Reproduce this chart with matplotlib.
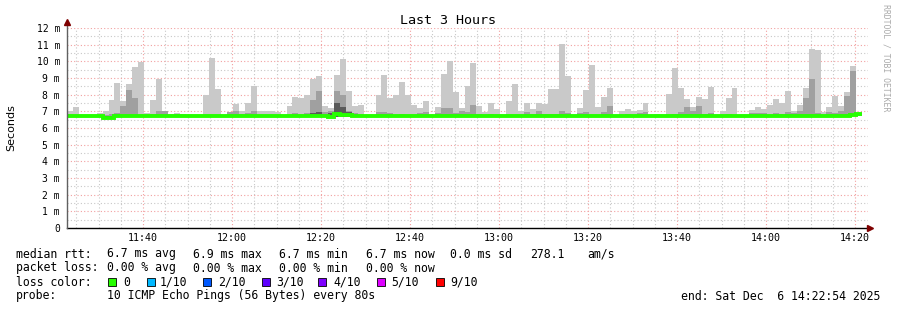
import matplotlib
matplotlib.use("Agg")
import matplotlib.pyplot as plt
import numpy as np

# ---------------- data (ms) ----------------
rtt_max = [
    7.0, 7.28, 6.75, 6.75, 6.8, 6.92, 7.0, 7.68, 8.7, 7.62,
    8.64, 9.64, 9.98, 6.92, 7.68, 8.96, 7.0, 6.85, 6.9, 6.85,
    6.75, 6.8, 6.8, 7.98, 10.22, 8.34, 6.8, 6.95, 7.44, 7.0,
    7.48, 8.52, 7.0, 7.0, 7.0, 6.95, 6.75, 7.32, 7.88, 7.82,
    7.98, 8.94, 9.1, 7.32, 7.22, 9.18, 10.14, 8.22, 7.32, 7.38,
    6.75, 6.75, 7.98, 9.18, 7.82, 7.98, 8.76, 7.98, 7.38, 7.22,
    7.62, 6.75, 7.28, 9.24, 10.02, 8.18, 7.22, 8.52, 9.92, 7.32,
    6.95, 7.48, 7.15, 6.75, 7.62, 8.64, 7.0, 7.48, 7.15, 7.52,
    7.44, 8.34, 8.34, 11.04, 9.12, 6.75, 7.2, 8.28, 9.78, 7.26,
    7.86, 8.4, 6.8, 7.0, 7.15, 7.0, 7.06, 7.5, 6.8, 6.85,
    6.75, 8.02, 9.6, 8.42, 7.74, 7.26, 7.86, 7.74, 8.46, 6.8,
    7.0, 7.8, 8.4, 6.75, 6.75, 7.06, 7.26, 7.15, 7.38, 7.74,
    7.48, 8.22, 7.0, 7.38, 8.4, 10.74, 10.68, 6.95, 7.26, 7.92,
    7.32, 8.16, 9.72, 6.8]

rtt_mid = [
    6.75, 6.8, 6.75, 6.75, 6.78, 6.8, 6.8, 6.85, 6.9, 7.3,
    8.28, 7.82, 6.8, 6.8, 6.85, 7.05, 7.0, 6.8, 6.85, 6.8,
    6.75, 6.78, 6.78, 6.8, 6.8, 6.8, 6.78, 6.95, 7.0, 6.85,
    6.9, 7.0, 6.8, 6.8, 6.8, 6.8, 6.75, 6.8, 6.9, 6.8,
    6.9, 7.68, 8.22, 6.95, 7.0, 8.22, 7.98, 7.0, 6.9, 6.8,
    6.75, 6.75, 6.95, 6.95, 6.9, 6.8, 6.85, 6.8, 6.8, 6.9,
    6.95, 6.75, 6.9, 7.2, 7.2, 6.9, 7.0, 6.95, 7.38, 6.85,
    6.8, 6.85, 6.8, 6.75, 6.8, 6.8, 6.8, 6.95, 6.85, 7.0,
    6.85, 6.85, 6.85, 7.05, 6.9, 6.75, 6.9, 6.95, 6.8, 6.8,
    6.95, 7.32, 6.8, 6.8, 6.85, 6.8, 6.9, 6.95, 6.8, 6.8,
    6.75, 6.8, 6.85, 6.95, 7.26, 7.0, 7.32, 6.85, 6.9, 6.8,
    6.8, 6.85, 6.8, 6.75, 6.75, 6.9, 6.9, 6.9, 6.8, 6.9,
    6.85, 6.95, 6.9, 7.0, 7.8, 8.96, 6.9, 6.8, 6.95, 6.9,
    7.0, 7.92, 9.42, 6.8]

rtt_inner = [
    6.72, 6.72, 6.72, 6.72, 6.72, 6.72, 6.72, 6.72, 6.72, 6.72,
    6.72, 6.72, 6.72, 6.72, 6.72, 6.72, 6.72, 6.72, 6.72, 6.72,
    6.72, 6.72, 6.72, 6.72, 6.72, 6.72, 6.72, 6.72, 6.72, 6.72,
    6.72, 6.72, 6.72, 6.72, 6.72, 6.72, 6.72, 6.72, 6.72, 6.72,
    6.72, 6.9, 6.95, 6.72, 6.9, 7.5, 7.25, 6.95, 6.72, 6.72,
    6.72, 6.72, 6.72, 6.72, 6.72, 6.72, 6.72, 6.72, 6.72, 6.72,
    6.72, 6.72, 6.72, 6.72, 6.72, 6.72, 6.72, 6.72, 6.72, 6.72,
    6.72, 6.72, 6.72, 6.72, 6.72, 6.72, 6.72, 6.72, 6.72, 6.72,
    6.72, 6.72, 6.72, 6.72, 6.72, 6.72, 6.72, 6.72, 6.72, 6.72,
    6.72, 6.72, 6.72, 6.72, 6.72, 6.72, 6.72, 6.72, 6.72, 6.72,
    6.72, 6.72, 6.72, 6.72, 6.72, 6.72, 6.72, 6.72, 6.72, 6.72,
    6.72, 6.72, 6.72, 6.72, 6.72, 6.72, 6.72, 6.72, 6.72, 6.72,
    6.72, 6.72, 6.72, 6.72, 6.72, 6.72, 6.72, 6.72, 6.72, 6.72,
    6.72, 6.72, 6.72, 6.72]

rtt_min = [
    6.64, 6.64, 6.64, 6.64, 6.64, 6.64, 6.56, 6.58, 6.64, 6.64,
    6.64, 6.64, 6.64, 6.64, 6.64, 6.64, 6.64, 6.64, 6.64, 6.64,
    6.64, 6.64, 6.64, 6.64, 6.64, 6.64, 6.64, 6.64, 6.64, 6.64,
    6.64, 6.64, 6.64, 6.64, 6.64, 6.64, 6.64, 6.64, 6.64, 6.64,
    6.64, 6.64, 6.64, 6.64, 6.6, 6.64, 6.64, 6.64, 6.64, 6.64,
    6.64, 6.64, 6.64, 6.64, 6.64, 6.64, 6.64, 6.64, 6.64, 6.64,
    6.64, 6.64, 6.64, 6.64, 6.64, 6.64, 6.64, 6.64, 6.64, 6.64,
    6.64, 6.64, 6.64, 6.64, 6.64, 6.64, 6.64, 6.64, 6.64, 6.64,
    6.64, 6.64, 6.64, 6.64, 6.64, 6.64, 6.64, 6.64, 6.64, 6.64,
    6.64, 6.64, 6.64, 6.64, 6.64, 6.64, 6.64, 6.64, 6.64, 6.64,
    6.64, 6.64, 6.64, 6.64, 6.64, 6.64, 6.64, 6.64, 6.64, 6.64,
    6.64, 6.64, 6.64, 6.64, 6.64, 6.64, 6.64, 6.64, 6.64, 6.64,
    6.64, 6.64, 6.64, 6.64, 6.64, 6.64, 6.64, 6.64, 6.64, 6.64,
    6.64, 6.64, 6.7, 6.7]

rtt_median = [
    6.72, 6.74, 6.7, 6.72, 6.72, 6.7, 6.6, 6.62, 6.72, 6.72,
    6.72, 6.72, 6.72, 6.72, 6.72, 6.72, 6.72, 6.72, 6.72, 6.72,
    6.72, 6.72, 6.72, 6.72, 6.72, 6.72, 6.72, 6.72, 6.72, 6.72,
    6.72, 6.72, 6.72, 6.72, 6.72, 6.72, 6.72, 6.72, 6.72, 6.72,
    6.72, 6.72, 6.72, 6.72, 6.66, 6.86, 6.8, 6.76, 6.72, 6.72,
    6.7, 6.7, 6.72, 6.72, 6.72, 6.72, 6.72, 6.72, 6.72, 6.72,
    6.72, 6.72, 6.72, 6.72, 6.72, 6.72, 6.72, 6.72, 6.72, 6.72,
    6.72, 6.72, 6.72, 6.72, 6.72, 6.72, 6.72, 6.72, 6.72, 6.72,
    6.72, 6.72, 6.72, 6.72, 6.72, 6.72, 6.72, 6.72, 6.72, 6.72,
    6.72, 6.72, 6.72, 6.72, 6.72, 6.72, 6.72, 6.72, 6.72, 6.72,
    6.72, 6.72, 6.72, 6.72, 6.72, 6.72, 6.72, 6.72, 6.72, 6.72,
    6.72, 6.72, 6.72, 6.72, 6.72, 6.72, 6.72, 6.72, 6.72, 6.72,
    6.72, 6.72, 6.72, 6.72, 6.72, 6.72, 6.72, 6.72, 6.72, 6.72,
    6.72, 6.74, 6.8, 6.84]

x_tick_labels = ["11:40", "12:00", "12:20", "12:40", "13:00", "13:20", "13:40", "14:00", "14:20"]
y_tick_labels = ["0", "1 m", "2 m", "3 m", "4 m", "5 m", "6 m", "7 m", "8 m", "9 m", "10 m", "11 m", "12 m"]
loss_labels = ["0", "1/10", "2/10", "3/10", "4/10", "5/10", "9/10"]
loss_colors = ["#26ff00", "#00b8ff", "#0059ff", "#5e00ff", "#7e00ff", "#dd00ff", "#ff0000"]

# ---------------- layout ----------------
W, H = 897, 310
MONO = "DejaVu Sans Mono"
fig = plt.figure(figsize=(W / 100, H / 100), dpi=100)
fig.patch.set_facecolor("white")

t_start = 11 * 60 + 22 + 54 / 60.0   # minutes since midnight
t_end = t_start + 180
step = 80 / 60.0

ax = fig.add_axes([67 / W, (H - 228) / H, 801 / W, 200 / H])
ax.set_xlim(t_start, t_end)
ax.set_ylim(0, 12)
for s in ax.spines.values():
    s.set_visible(False)

# grid
dot = (0, (1, 2))
m = int(np.ceil(t_start / 5.0)) * 5
while m < t_end:
    major = (m % 20 == 0)
    ax.axvline(m, color="#f2a0a0" if major else "#c8c8c8", lw=0.8, ls=dot, zorder=0)
    m += 5
for v in np.arange(0.5, 12.01, 0.5):
    major = abs(v - round(v)) < 1e-6
    ax.axhline(v, color="#f2a0a0" if major else "#c8c8c8", lw=0.8, ls=dot, zorder=0)

# smoke and median
n = len(rtt_max)
edges = t_start + np.arange(n + 1) * step
lo = np.array(rtt_min)
ax.stairs(rtt_max, edges, baseline=lo, fill=True, color="#c9c9c9", lw=0, zorder=2)
ax.stairs(np.minimum(rtt_mid, rtt_max), edges, baseline=lo, fill=True, color="#a0a0a0", lw=0, zorder=3)
ax.stairs(rtt_inner, edges, baseline=lo, fill=True, color="#5a5a5a", lw=0, zorder=4)
ax.stairs(rtt_median, edges, baseline=None, color="#26ff00", lw=2.8, zorder=5)

# axes lines and arrows
x_arrow = t_start + (870 - 67) / 801 * 180
ax.plot([t_start, x_arrow], [0, 0], color="black", lw=1.0, clip_on=False, zorder=6)
ax.plot([t_start, t_start], [0, 12.3], color="#606060", lw=1.0, clip_on=False, zorder=6)
ax.plot([x_arrow], [0], marker=">", color="#7f0000", ms=4, clip_on=False, zorder=7)
ax.plot([t_start], [12.35], marker="^", color="#7f0000", ms=4, clip_on=False, zorder=7)

# ticks
ax.set_yticks(range(13))
ax.set_yticklabels(y_tick_labels, fontfamily=MONO, fontsize=7)
xt = [11 * 60 + 40 + 20 * i for i in range(len(x_tick_labels))]
ax.set_xticks(xt)
ax.set_xticklabels(x_tick_labels, fontfamily=MONO, fontsize=7.2)
ax.tick_params(axis="y", length=0, pad=5)
ax.tick_params(axis="x", length=0, pad=3.5)

# title / labels
fig.text(448 / W, 1 - 20 / H, "Last 3 Hours", ha="center", va="center", fontfamily=MONO, fontsize=9.6)
fig.text(11 / W, 1 - 128 / H, "Seconds", rotation=90, ha="center", va="center", fontsize=8)
fig.text(886 / W, 1 - 4 / H, "RRDTOOL / TOBI OETIKER", rotation=270, ha="center", va="top",
         fontfamily=MONO, fontsize=5.9, color="#aaaaaa")

def t(x, y, s, **kw):
    fig.text(x / W, 1 - y / H, s, ha="left", va="center", fontfamily=MONO, fontsize=8.3, **kw)

t(16, 254, "median rtt:")
for x, s in [(107, "6.7 ms avg"), (193, "6.9 ms max"), (279, "6.7 ms min"), (366, "6.7 ms now"),
             (450, "0.0 ms sd"), (530, "278.1"), (587, "am/s")]:
    t(x, 254, s)
t(16, 268, "packet loss:")
for x, s in [(107, "0.00 % avg"), (193, "0.00 % max"), (279, "0.00 % min"), (366, "0.00 % now")]:
    t(x, 268, s)
t(16, 282, "loss color:")
sq_x = [108, 147, 203, 262, 318, 377, 436]
lab_x = [123, 160, 218, 276, 333, 391, 450]
for sx, lx, lab, col in zip(sq_x, lab_x, loss_labels, loss_colors):
    fig.patches.append(plt.Rectangle((sx / W, 1 - 286 / H), 8 / W, 8 / H, transform=fig.transFigure,
                                     facecolor=col, edgecolor="black", lw=0.6))
    t(lx, 282, lab)
t(16, 296, "probe:")
t(107, 296, "10 ICMP Echo Pings (56 Bytes) every 80s")
fig.text(880 / W, 1 - 296 / H, "end: Sat Dec  6 14:22:54 2025", ha="right", va="center",
         fontfamily=MONO, fontsize=8.3)

fig.savefig("out.png", dpi=100, facecolor="white")
